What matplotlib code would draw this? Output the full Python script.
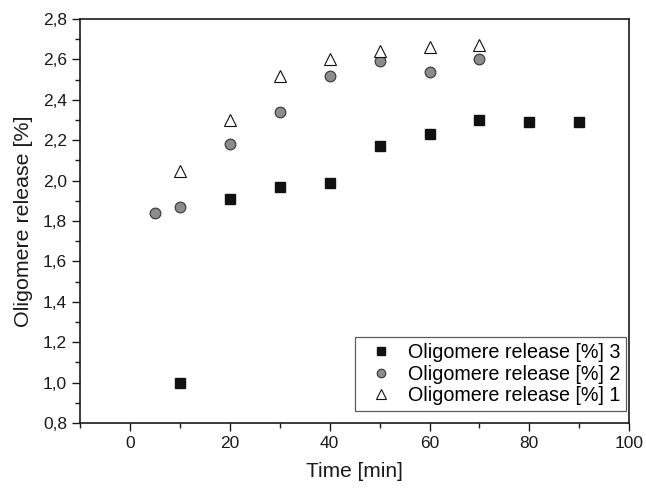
import matplotlib
matplotlib.use("Agg")
import matplotlib.pyplot as plt
from matplotlib.ticker import MultipleLocator, FuncFormatter

plt.rcParams['font.family'] = ['Liberation Sans', 'DejaVu Sans']

# data
time_3 = [10, 20, 30, 40, 50, 60, 70, 80, 90]
release_3 = [1.00, 1.91, 1.97, 1.99, 2.17, 2.23, 2.30, 2.29, 2.29]

time_2 = [5, 10, 20, 30, 40, 50, 60, 70]
release_2 = [1.84, 1.87, 2.18, 2.34, 2.52, 2.59, 2.54, 2.60]

time_1 = [10, 20, 30, 40, 50, 60, 70]
release_1 = [2.05, 2.30, 2.52, 2.60, 2.64, 2.66, 2.67]

fig = plt.figure(figsize=(6.46, 4.88), dpi=100)
ax = fig.add_axes([0.124, 0.133, 0.850, 0.828])

ax.plot(time_3, release_3, linestyle='none', marker='s', markersize=6.7,
        color='#111111', markeredgecolor='#111111', label='Oligomere release [%] 3')
ax.plot(time_2, release_2, linestyle='none', marker='o', markersize=7.7,
        markerfacecolor='#8c8c8c', markeredgecolor='#333333', markeredgewidth=0.8,
        label='Oligomere release [%] 2')
ax.plot(time_1, release_1, linestyle='none', marker='^', markersize=9,
        markerfacecolor='white', markeredgecolor='#111111', markeredgewidth=0.8,
        label='Oligomere release [%] 1')

ax.set_xlim(-10, 100)
ax.set_ylim(0.8, 2.8)
ax.xaxis.set_major_locator(MultipleLocator(20))
ax.xaxis.set_minor_locator(MultipleLocator(10))
ax.yaxis.set_major_locator(MultipleLocator(0.2))
ax.yaxis.set_minor_locator(MultipleLocator(0.1))
ax.yaxis.set_major_formatter(FuncFormatter(lambda v, p: f"{v:.1f}".replace('.', ',')))

ax.tick_params(which='both', direction='out', top=False, right=False, labelsize=12.5, colors='#1a1a1a')
ax.tick_params(which='major', length=6, width=1)
ax.tick_params(which='minor', length=3.5, width=1)
for s in ax.spines.values():
    s.set_linewidth(1.2)
    s.set_color('#1a1a1a')

ax.set_xlabel('Time [min]', fontsize=15, color='#1a1a1a', labelpad=8)
ax.set_ylabel('Oligomere release [%]', fontsize=15.4, color='#1a1a1a', labelpad=7)

leg = ax.legend(loc='lower right', bbox_to_anchor=(0.995, 0.03), fontsize=14.2,
                frameon=True, fancybox=False, edgecolor='#333333', borderaxespad=0,
                handlelength=2.1, handletextpad=0.3, labelspacing=0.12,
                borderpad=0.3, markerscale=0.8)
leg.get_frame().set_linewidth(0.9)

fig.savefig('out.png', dpi=100)
